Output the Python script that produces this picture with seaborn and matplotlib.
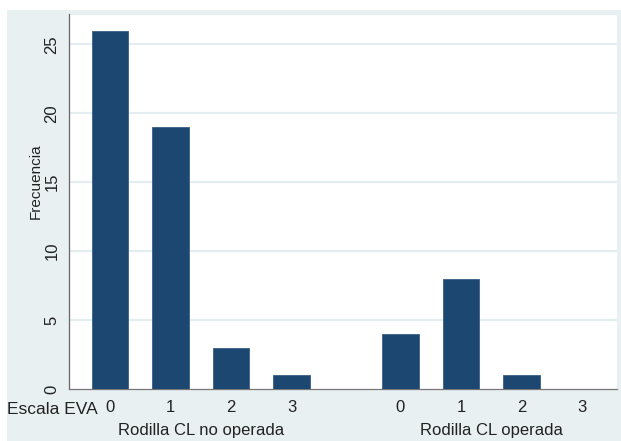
import numpy as np
import pandas as pd
import matplotlib
matplotlib.use("Agg")
import matplotlib.pyplot as plt
import seaborn as sns

# data
grupos = ["Rodilla CL no operada", "Rodilla CL operada"]
eva = ["0", "1", "2", "3"]
frec_no_operada = [26, 19, 3, 1]
frec_operada = [4, 8, 1, 0]

BAR = "#1b4771"
FONDO = "#e9f0f2"
GRID = "#e4eef0"

sns.set_style("white")
plt.rcParams["font.family"] = ["Liberation Sans", "DejaVu Sans"]

filas = []
for g, vals in enumerate([frec_no_operada, frec_operada]):
    for i, v in enumerate(vals):
        filas.append({"grupo": grupos[g], "eva": eva[i], "pos": g * 4.8 + i, "frec": v})
df = pd.DataFrame(filas)

fig = plt.figure(figsize=(6.21, 4.41), dpi=100)
fig.patch.set_facecolor("white")

# fondo gris azulado tipo Stata
bg = fig.add_axes([7 / 621, 0, 1 - 7 / 621, 1 - 10 / 441], zorder=-1)
bg.set_facecolor(FONDO)
bg.set_xticks([])
bg.set_yticks([])
for s in bg.spines.values():
    s.set_visible(False)

ax = fig.add_axes([69 / 621, 1 - 389 / 441, 548 / 621, 375 / 441], zorder=1)
ax.set_facecolor("white")

sns.barplot(data=df, x="pos", y="frec", native_scale=True, width=0.6,
            color=BAR, saturation=1, edgecolor="#3a5f85", linewidth=0.6, ax=ax, zorder=3)

ax.set_xlim(-0.68, 8.38)
ax.set_ylim(0, 27.2)
ax.set_yticks([0, 5, 10, 15, 20, 25])
for y in [5, 10, 15, 20, 25, 27.2]:
    ax.axhline(y, color=GRID, lw=1.6, zorder=1)

ax.set_xticks(df["pos"])
ax.set_xticklabels(df["eva"], fontsize=12, color="#222222")
ax.tick_params(axis="x", length=0, pad=8)
ax.tick_params(axis="y", length=5, width=0.8, color="#555555", labelsize=12,
               labelcolor="#222222", pad=2)
for lbl in ax.get_yticklabels():
    lbl.set_rotation(90)
    lbl.set_va("center")

ax.set_xlabel("")
ax.set_ylabel("Frecuencia", fontsize=11, color="#222222")
ax.yaxis.set_label_coords(-0.048, 0.555)

for s in ["top", "right"]:
    ax.spines[s].set_visible(False)
ax.spines["left"].set_color("#666666")
ax.spines["left"].set_linewidth(0.9)
ax.spines["bottom"].set_color("#777777")
ax.spines["bottom"].set_linewidth(0.9)

# etiquetas de grupo
fig.text(7 / 621, 1 - 409 / 441, "Escala EVA", ha="left", va="center",
         fontsize=12.5, color="#222222")
for g, nombre in enumerate(grupos):
    centro = df.loc[df["grupo"] == nombre, "pos"].mean()
    ax.text(centro, -0.112, nombre, transform=ax.get_xaxis_transform(),
            ha="center", va="center", fontsize=12, color="#222222")

fig.savefig("out.png", dpi=100)
